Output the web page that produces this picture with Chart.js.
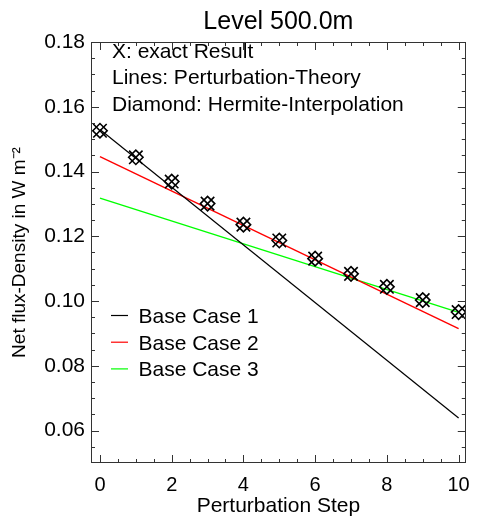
<!DOCTYPE html>
<html>
<head>
<meta charset="utf-8">
<title>Level 500.0m</title>
<script src="https://cdn.jsdelivr.net/npm/chart.js@4.4.0/dist/chart.umd.min.js"></script>
<style>
  html, body { margin: 0; padding: 0; background: #fff; }
  #wrap { width: 480px; height: 516px; }
</style>
</head>
<body>
<div id="wrap"><canvas id="fluxChart"></canvas></div>
<script>
const steps = [0, 1, 2, 3, 4, 5, 6, 7, 8, 9, 10];
const exactResult = [0.1526, 0.1444, 0.1369, 0.1301, 0.1236, 0.1187, 0.1131, 0.1084, 0.1044, 0.1003, 0.0966];
const hermite = [0.1526, 0.1444, 0.1369, 0.1301, 0.1236, 0.1187, 0.1131, 0.1084, 0.1044, 0.1003, 0.0966];

// perturbation-theory lines, values at first and last step
const lineSteps = [0, 10];
const baseCase1 = [0.1530, 0.0639];
const baseCase2 = [0.1446, 0.0915];
const baseCase3 = [0.1318, 0.0965];

const xTicks = [0, 2, 4, 6, 8, 10];
const yTicks = [0.06, 0.08, 0.10, 0.12, 0.14, 0.16, 0.18];
const notes = ['X: exact Result', 'Lines: Perturbation-Theory', 'Diamond: Hermite-Interpolation'];

const FONT = 'Liberation Sans, Arial, Helvetica, sans-serif';
Chart.defaults.font.family = FONT;
Chart.defaults.color = '#000';

function pts(xs, ys) {
    return xs.map((x, i) => ({ x: x, y: ys[i] }));
}

// box frame with inward major/minor ticks on all four sides
const frame = {
    id: 'frame',
    afterDraw(chart) {
        const { ctx, chartArea: a, scales: { x, y } } = chart;
        ctx.save();
        ctx.strokeStyle = '#333';
        ctx.lineWidth = 1;
        ctx.strokeRect(Math.round(a.left) + 0.5, Math.round(a.top) + 0.5,
            Math.round(a.right - a.left) - 1, Math.round(a.bottom - a.top) - 1);
        ctx.beginPath();
        for (let v = 0; v <= 10.001; v += 0.5) {
            const len = Math.abs(v % 2) < 1e-6 ? 8 : 4;
            const px = Math.round(x.getPixelForValue(v)) + 0.5;
            ctx.moveTo(px, a.bottom); ctx.lineTo(px, a.bottom - len);
            ctx.moveTo(px, a.top); ctx.lineTo(px, a.top + len);
        }
        for (let v = 0.055; v <= 0.1801; v += 0.005) {
            const major = Math.abs(Math.round(v * 1000) % 20) === 0;
            const len = major ? 8 : 4;
            const py = Math.round(y.getPixelForValue(v)) + 0.5;
            ctx.moveTo(a.left, py); ctx.lineTo(a.left + len, py);
            ctx.moveTo(a.right, py); ctx.lineTo(a.right - len, py);
        }
        ctx.stroke();
        ctx.restore();
    }
};

// legend for the three base cases and the notes in the upper left
const labels = {
    id: 'labels',
    afterDraw(chart) {
        const { ctx, chartArea: a } = chart;
        ctx.save();
        ctx.font = '21px ' + FONT;
        ctx.fillStyle = '#000';
        ctx.textBaseline = 'alphabetic';
        notes.forEach((t, i) => ctx.fillText(t, a.left + 21, a.top + 15.5 + i * 26.7));
        chart.data.datasets.filter(d => d.isCase).forEach((d, i) => {
            const yy = a.top + 273.5 + i * 26.7;
            ctx.strokeStyle = d.borderColor;
            ctx.lineWidth = 1.2;
            ctx.beginPath();
            ctx.moveTo(a.left + 20, yy);
            ctx.lineTo(a.left + 37, yy);
            ctx.stroke();
            ctx.fillText(d.label, a.left + 47.5, yy + 7.5);
        });
        ctx.restore();
    }
};

new Chart(document.getElementById('fluxChart'), {
    type: 'scatter',
    data: {
        datasets: [
            {
                label: 'exact Result',
                data: pts(steps, exactResult),
                pointStyle: 'crossRot',
                pointRadius: 9.5,
                borderColor: '#000',
                borderWidth: 1.6
            },
            {
                label: 'Hermite-Interpolation',
                data: pts(steps, hermite),
                pointStyle: 'rectRot',
                pointRadius: 7.2,
                backgroundColor: 'rgba(0,0,0,0)',
                borderColor: '#000',
                borderWidth: 1.6
            },
            {
                label: 'Base Case 1',
                isCase: true,
                data: pts(lineSteps, baseCase1),
                showLine: true,
                pointRadius: 0,
                borderColor: '#000000',
                borderWidth: 1.2
            },
            {
                label: 'Base Case 2',
                isCase: true,
                data: pts(lineSteps, baseCase2),
                showLine: true,
                pointRadius: 0,
                borderColor: '#ff0000',
                borderWidth: 1.4
            },
            {
                label: 'Base Case 3',
                isCase: true,
                data: pts(lineSteps, baseCase3),
                showLine: true,
                pointRadius: 0,
                borderColor: '#00ff00',
                borderWidth: 1.4
            }
        ]
    },
    options: {
        responsive: true,
        maintainAspectRatio: false,
        animation: false,
        layout: { padding: { left: 0, right: 6.5, top: 0, bottom: 0 } },
        plugins: {
            legend: { display: false },
            tooltip: { enabled: false },
            title: {
                display: true,
                text: 'Level 500.0m',
                fullSize: false,
                color: '#000',
                font: { size: 25, weight: 'normal' },
                padding: { top: 7, bottom: 5 }
            }
        },
        scales: {
            x: {
                type: 'linear',
                min: -0.25,
                max: 10.2,
                afterBuildTicks: s => { s.ticks = xTicks.map(v => ({ value: v })); },
                afterFit: s => { s.height = 53; },
                grid: { display: false, drawTicks: false },
                border: { display: false },
                ticks: { font: { size: 20 }, padding: 10, maxRotation: 0, color: '#000' },
                title: {
                    display: true,
                    text: 'Perturbation Step',
                    font: { size: 21 },
                    color: '#000',
                    padding: { top: 0, bottom: -3 }
                }
            },
            y: {
                type: 'linear',
                min: 0.05,
                max: 0.18,
                afterBuildTicks: s => { s.ticks = yTicks.map(v => ({ value: v })); },
                afterFit: s => { s.width = 91; },
                grid: { display: false, drawTicks: false },
                border: { display: false },
                ticks: {
                    font: { size: 21 },
                    padding: 6,
                    color: '#000',
                    callback: v => v.toFixed(2)
                },
                title: {
                    display: true,
                    text: 'Net flux-Density in W m\u207B\u00B2',
                    font: { size: 19 },
                    color: '#000',
                    padding: { top: 8, bottom: 0 }
                }
            }
        }
    },
    plugins: [frame, labels]
});
</script>
</body>
</html>
